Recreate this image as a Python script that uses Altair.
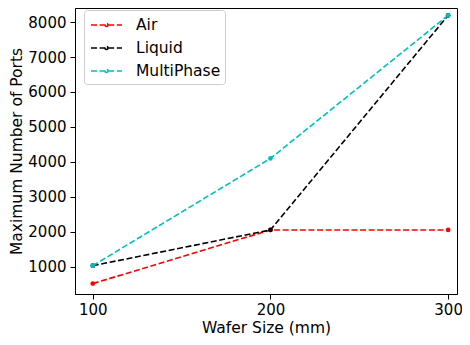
import altair as alt
import pandas as pd

wafer = [100, 200, 300]
air = [512, 2048, 2048]
liquid = [1024, 2048, 8192]
multi = [1024, 4096, 8192]
series = ["Air", "Liquid", "MultiPhase"]
colors = ["#ff0000", "#000000", "#00bfbf"]
y_ticks = [1000, 2000, 3000, 4000, 5000, 6000, 7000, 8000]

rows = []
for name, vals in zip(series, [air, liquid, multi]):
    for w, v in zip(wafer, vals):
        rows.append({"wafer": w, "ports": v, "series": name})
df = pd.DataFrame(rows)

FONT = "DejaVu Sans"

# legend symbol: dashed line with a small dot in the middle
SYMBOL = ("M-0.8,0H2.3 "
          "M0.6,0a0.15,0.15 0 1,0 0.3,0a0.15,0.15 0 1,0 -0.3,0")

x = alt.X(
    "wafer:Q",
    scale=alt.Scale(domain=[90, 305], nice=False, zero=False),
    axis=alt.Axis(values=wafer, title="Wafer Size (mm)", format="d"),
)
y = alt.Y(
    "ports:Q",
    scale=alt.Scale(domain=[214, 8404], nice=False, zero=False),
    axis=alt.Axis(values=y_ticks, title="Maximum Number of Ports", format="d"),
)

line = alt.Chart(df).mark_line(strokeDash=[6, 2.6], strokeWidth=1.6).encode(
    x=x,
    y=y,
    color=alt.Color(
        "series:N",
        scale=alt.Scale(domain=series, range=colors),
        legend=alt.Legend(
            title=None,
            orient="none",
            legendX=9,
            legendY=2,
            fillColor="white",
            strokeColor="#cccccc",
            cornerRadius=3,
            padding=4,
            symbolType=SYMBOL,
            symbolSize=400,
            symbolStrokeWidth=1.6,
            symbolDash=[6, 2.6],
            labelFontSize=15.5,
            labelFont=FONT,
            labelColor="black",
            labelOffset=26,
            rowPadding=3,
        ),
    ),
)

points = alt.Chart(df).mark_circle(size=22, opacity=1).encode(
    x=x,
    y=y,
    color=alt.Color("series:N", scale=alt.Scale(domain=series, range=colors), legend=None),
)

chart = (
    alt.layer(line, points)
    .resolve_legend(color="independent")
    .properties(
        width=382,
        height=286,
        autosize=alt.AutoSizeParams(type="none"),
        padding={"left": 67, "top": 0, "right": 5, "bottom": 43},
    )
    .configure_view(stroke="black", strokeWidth=1)
    .configure_axis(
        grid=False,
        domainColor="black",
        tickColor="black",
        tickSize=5,
        labelFontSize=15,
        titleFontSize=15.5,
        labelFont=FONT,
        titleFont=FONT,
        labelColor="black",
        titleColor="black",
        titleFontWeight="normal",
    )
    .configure_axisY(titlePadding=3, labelPadding=4)
    .configure_axisX(titlePadding=3, labelPadding=3)
)

chart.save("out.html", embed_options={"renderer": "svg", "actions": False})
